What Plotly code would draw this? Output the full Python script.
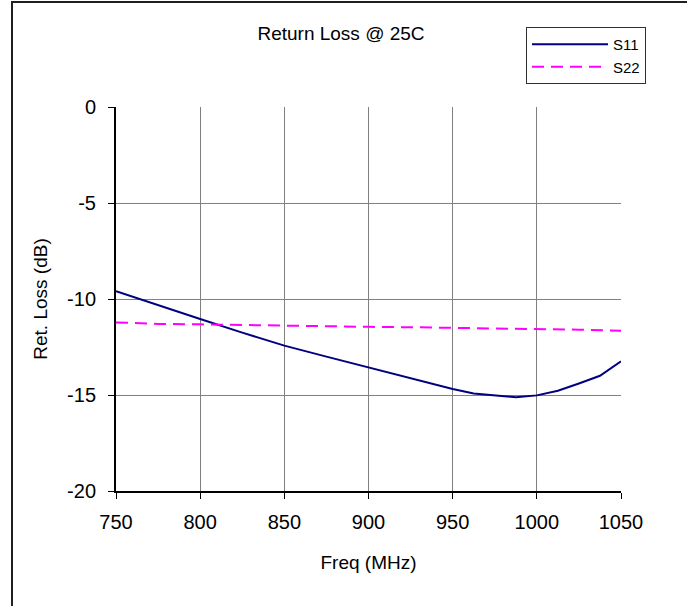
import plotly.graph_objects as go

freq_s11 = [750, 775, 800, 825, 850, 875, 900, 925, 950, 962.5, 975, 987.5, 1000, 1012.5, 1025, 1037.5, 1050]
s11 = [-9.60, -10.30, -11.04, -11.75, -12.43, -13.00, -13.56, -14.10, -14.69, -14.92, -15.02, -15.12, -15.02, -14.78, -14.40, -14.00, -13.25]

freq_s22 = [750, 775, 800, 825, 850, 875, 900, 925, 950, 975, 1000, 1025, 1050]
s22 = [-11.22, -11.30, -11.32, -11.36, -11.40, -11.43, -11.45, -11.47, -11.50, -11.53, -11.55, -11.60, -11.65]

x_ticks = [750, 800, 850, 900, 950, 1000, 1050]
y_ticks = [0, -5, -10, -15, -20]

FONT = "Liberation Sans, Arial, sans-serif"

fig = go.Figure()
fig.add_trace(go.Scatter(x=freq_s11, y=s11, mode="lines", name="S11", legendgroup="a",
                         line=dict(color="#000080", width=2)))
fig.add_trace(go.Scatter(x=freq_s22, y=s22, mode="lines", name="S22", legendgroup="b",
                         line=dict(color="#FF00FF", width=2, dash="12px,7px")))

PW, PH = 505, 384
fig.update_layout(
    width=687, height=606,
    margin=dict(l=116, r=66, t=107, b=115, autoexpand=False),
    paper_bgcolor="white", plot_bgcolor="white",
    font=dict(family=FONT, size=20, color="black"),
    title=dict(text="Return Loss @ 25C", x=341/687, xanchor="center",
               y=1 - 33/606, yanchor="middle", font=dict(size=19)),
    showlegend=True,
    legend=dict(x=(526 - 116) / PW, xanchor="left", y=1 + (107 - 27) / PH, yanchor="top",
                bgcolor="white", bordercolor="#303030", borderwidth=1,
                font=dict(size=15), itemwidth=76, tracegroupgap=0),
    xaxis=dict(range=[750, 1050], tickvals=x_ticks, ticktext=[str(v) for v in x_ticks],
               showgrid=True, gridcolor="#808080", gridwidth=1,
               showline=True, linecolor="black", linewidth=2,
               ticks="outside", ticklen=6, tickcolor="black", tickwidth=1,
               ticklabelstandoff=6, zeroline=False,
               title=dict(text="Freq (MHz)", standoff=24, font=dict(size=19))),
    yaxis=dict(range=[-20, 0], tickvals=y_ticks, ticktext=[str(v) for v in y_ticks],
               showgrid=True, gridcolor="#808080", gridwidth=1,
               showline=True, linecolor="black", linewidth=2,
               ticks="outside", ticklen=6, tickcolor="black", tickwidth=1,
               ticklabelstandoff=8, zeroline=False,
               title=dict(text="Ret. Loss (dB)", standoff=14, font=dict(size=19))),
    shapes=[dict(type="rect", xref="paper", yref="paper",
                 x0=-104 / PW, x1=(687 - 116 + 10) / PW,
                 y0=-130 / PH, y1=1 + 105 / PH,
                 line=dict(color="#202020", width=2), fillcolor="rgba(0,0,0,0)",
                 layer="below")],
)

fig.write_html("out.html", config={"displayModeBar": False},
               post_script="document.body.style.margin='0';")
